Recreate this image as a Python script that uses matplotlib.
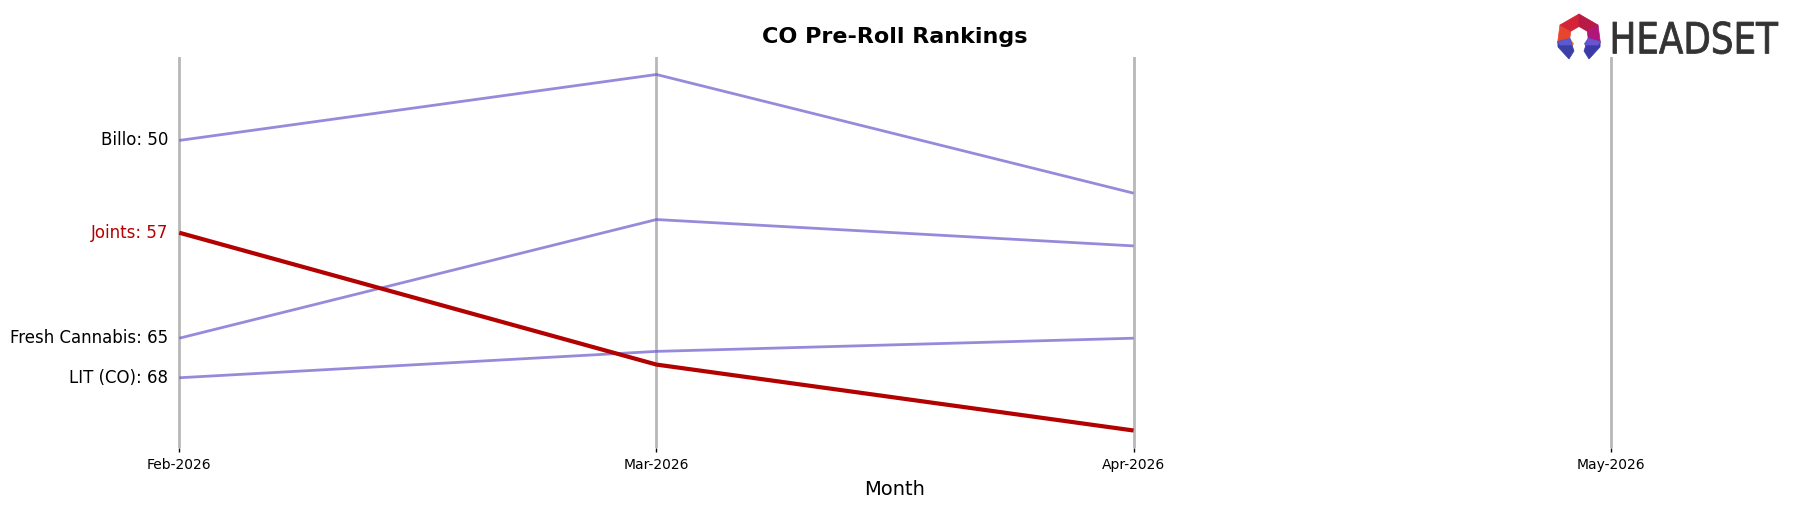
import matplotlib
matplotlib.use("Agg")
import matplotlib.pyplot as plt
from matplotlib.patches import Polygon, PathPatch
from matplotlib.textpath import TextPath
from matplotlib.font_manager import FontProperties
from matplotlib.transforms import Affine2D
import numpy as np

# ---- data ----
months = ["Feb-2026", "Mar-2026", "Apr-2026", "May-2026"]
brands = ["Billo", "Joints", "Fresh Cannabis", "LIT (CO)"]
billo_ranks = [50, 45, 54]
joints_ranks = [57, 67, 72]
fresh_ranks = [65, 56, 58]
lit_ranks = [68, 66, 65]
highlight = "Joints"

series = {
    "Billo": billo_ranks,
    "Joints": joints_ranks,
    "Fresh Cannabis": fresh_ranks,
    "LIT (CO)": lit_ranks,
}

W, H = 1793, 507
fig = plt.figure(figsize=(W / 100, H / 100), dpi=100)

# axes placement (pixels)
x_feb, x_may = 179.3, 1610.7
ppu = (x_may - x_feb) / 3
xmin, xmax = -0.1, 3.1
left_px = x_feb + xmin * ppu
width_px = (xmax - xmin) * ppu
top_px, bot_px = 56.7, 448.3
ax = fig.add_axes([left_px / W, (H - bot_px) / H, width_px / W, (bot_px - top_px) / H])

red = "#B30000"
purple = "#6A5ACD"

for i in range(len(months)):
    ax.axvline(i, color="#b8b8b8", lw=2, zorder=1)

xs = np.arange(len(billo_ranks))
for name in brands:
    vals = series[name]
    if name == highlight:
        ax.plot(xs, vals, color=red, lw=3, zorder=3, solid_capstyle="butt")
    else:
        ax.plot(xs, vals, color=purple, lw=2, alpha=0.7, zorder=2, solid_capstyle="butt")
    ax.annotate(f"{name}: {vals[0]}", xy=(0, vals[0]), xytext=(-8, 0),
                textcoords="offset points", ha="right", va="center",
                fontsize=12, color=red if name == highlight else "black")

allv = billo_ranks + joints_ranks + fresh_ranks + lit_ranks
lo, hi = min(allv), max(allv)
m = 0.05 * (hi - lo)
ax.set_ylim(hi + m, lo - m)
ax.set_xlim(xmin, xmax)
ax.set_xticks(range(len(months)))
ax.set_xticklabels(months, fontsize=10)
ax.tick_params(axis="x", length=3, width=1, pad=4)
ax.set_yticks([])
for s in ax.spines.values():
    s.set_visible(False)
ax.set_xlabel("Month", fontsize=14, labelpad=6)

fig.text(((left_px + width_px / 2)) / W, 1 - 36.6 / H, "CO Pre-Roll Rankings",
         ha="center", va="center", fontsize=16, fontweight="bold")

# ---- logo ----
lax = fig.add_axes([0, 0, 1, 1], zorder=10)
lax.set_xlim(0, W)
lax.set_ylim(H, 0)
lax.axis("off")

cx, cy = 1579, 36
R, r = 22, 9.5
angs = np.deg2rad(np.array([-125, -165, 150, 90, 30, -15, -55]))
cols = ["#f07a2a", "#e8452f", "#d42236", "#b81a45", "#b0157a", "#6a55d0"]
def pt(a, rad):
    return (cx + rad * np.cos(a), cy - rad * np.sin(a))
for k in range(len(angs) - 1):
    a0, a1 = angs[k], angs[k + 1]
    poly = [pt(a0, R), pt(a1, R), pt(a1, r), pt(a0, r)]
    lax.add_patch(Polygon(poly, closed=True, facecolor=cols[k], edgecolor=cols[k], lw=0.5))
# lower segments and legs
lax.add_patch(Polygon([pt(np.deg2rad(-165), R), pt(np.deg2rad(-165), r),
                       (1574, 51), (1569, 59), (1558, 47)], facecolor="#3a3fa6", edgecolor="#3a3fa6", lw=0.5))
lax.add_patch(Polygon([pt(np.deg2rad(-15), R), pt(np.deg2rad(-15), r),
                       (1584, 51), (1589, 59), (1600, 47)], facecolor="#3b3aa8", edgecolor="#3b3aa8", lw=0.5))
lax.add_patch(Polygon([pt(np.deg2rad(-165), R), pt(np.deg2rad(-165), r), (1572, 45), (1560, 45)],
                      facecolor="#5a5ad0", edgecolor="#5a5ad0", lw=0.5))
lax.add_patch(Polygon([pt(np.deg2rad(-15), R), pt(np.deg2rad(-15), r), (1586, 45), (1598, 45)],
                      facecolor="#6a55d0", edgecolor="#6a55d0", lw=0.5))

fp = FontProperties(family="DejaVu Sans")
tp = TextPath((0, 0), "HEADSET", size=100, prop=fp)
bb = tp.get_extents()
sx = 165 / bb.width
sy = 32.5 / bb.height
tr = Affine2D().translate(-bb.x0, -bb.y0).scale(sx, -sy).translate(1613, 54)
lax.add_patch(PathPatch(tr.transform_path(tp), facecolor="#333333", edgecolor="#333333", lw=0.6))

fig.savefig("out.png", dpi=100)
